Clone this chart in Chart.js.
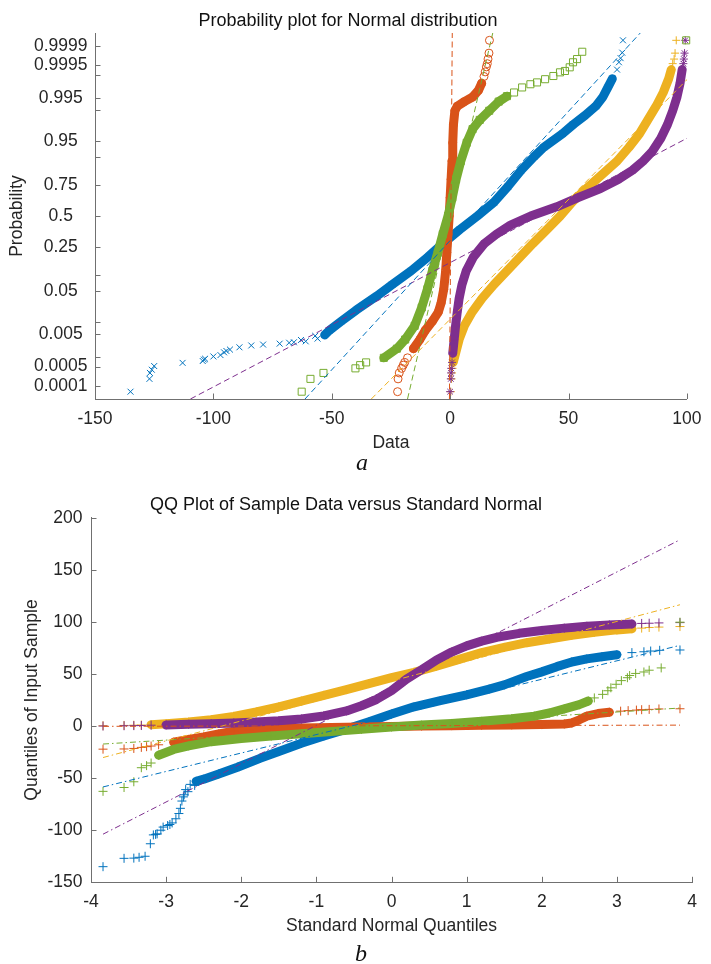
<!DOCTYPE html>
<html>
<head>
<meta charset="utf-8">
<script src="https://cdn.jsdelivr.net/npm/chart.js@4.4.1/dist/chart.umd.min.js"></script>
<style>
  body { margin: 0; background: #fff; }
  #wrap { position: relative; width: 711px; height: 964px; }
  #topChart { position: absolute; left: 0; top: 0; }
  #botChart { position: absolute; left: 0; top: 480px; }
  .lab { position: absolute; width: 24px; text-align: center; font: italic 24px "Liberation Serif", serif; line-height: 24px; color: #111; }
</style>
</head>
<body>
<div id="wrap">
  <canvas id="topChart" width="711" height="480"></canvas>
  <canvas id="botChart" width="711" height="484"></canvas>
  <div class="lab" style="left:350px;top:450px;">a</div>
  <div class="lab" style="left:349px;top:941px;">b</div>
</div>
<script>
// normal quantiles (z) and sample values
const blueZ = [-3.84, -3.56, -3.43, -3.36, -3.28, -3.21, -3.17, -3.14, -3.12, -3.07, -3.04, -2.98, -2.95, -2.92, -2.87, -2.83, -2.81, -2.79, -2.77, -2.76, -2.74, -2.71, -2.68, -2.62, -2.6, -2.5, -2.3, -2.05, -1.75, -1.5, -1.2, -0.9, -0.6, -0.3, 0, 0.3, 0.65, 1.0, 1.3, 1.5, 1.8, 2.0, 2.2, 2.4, 2.6, 2.8, 3.0, 3.2, 3.36, 3.45, 3.57, 3.84];
const blueV = [-135, -127, -126.8, -126, -125, -113, -104.5, -104, -103.5, -100, -97, -95.5, -94.5, -93, -89, -84, -79, -72, -68, -66, -61, -63, -56, -57, -53, -51, -46, -39.5, -31, -24.5, -16.5, -9.5, -3, 4, 11.5, 18.5, 24.5, 30, 35.5, 39.5, 47.5, 52, 57, 61.5, 64.5, 66.5, 68.5, 70.5, 71.3, 72, 72.7, 73];

const orangeZ = [-3.84, -3.56, -3.43, -3.33, -3.26, -3.2, -3.1, -2.9, -2.7, -2.5, -2.3, -2.1, -1.9, -1.6, -1.2, -0.8, -0.4, 0, 0.4, 0.8, 1.2, 1.6, 2.0, 2.3, 2.4, 2.5, 2.6, 2.75, 2.9, 3.05, 3.15, 3.26, 3.33, 3.43, 3.56, 3.84];
const orangeV = [-22.2, -22, -21.5, -20.5, -19.8, -19.2, -18, -15.5, -12.8, -10.5, -7.5, -5, -3.8, -2.7, -1.9, -1.4, -0.9, -0.4, 0, 0.4, 0.8, 1.1, 1.4, 2, 3, 6, 9.5, 12, 13.3, 14.3, 14.8, 15.3, 15.7, 16, 16.4, 16.6];

const yellowZ = [-3.84, -3.56, -3.43, -3.33, -3.2, -3.0, -2.7, -2.4, -2.1, -1.8, -1.5, -1.2, -0.9, -0.6, -0.3, 0, 0.3, 0.6, 0.9, 1.2, 1.5, 1.8, 2.1, 2.4, 2.7, 3.0, 3.2, 3.33, 3.43, 3.56, 3.84];
const yellowV = [0.3, 0.6, 0.8, 1.0, 1.3, 2.3, 3.8, 6, 9.3, 13.5, 18.5, 24, 29.5, 35, 40.8, 46.5, 51.5, 57.5, 64, 70.5, 75.5, 80, 83.5, 87, 90, 92.3, 93.4, 94, 94.6, 95, 95.5];

const purpleZ = [-3.84, -3.56, -3.43, -3.33, -3.2, -3.0, -2.7, -2.4, -2.1, -1.8, -1.5, -1.2, -0.9, -0.6, -0.4, -0.2, 0, 0.2, 0.4, 0.6, 0.8, 1.0, 1.2, 1.4, 1.7, 2.0, 2.3, 2.6, 2.9, 3.2, 3.33, 3.43, 3.56, 3.84];
const purpleV = [0, 0.3, 0.4, 0.5, 0.8, 1.1, 1.7, 2.3, 3, 3.8, 5, 6.8, 9.8, 14.5, 19.5, 25.5, 34, 45, 54, 63.5, 71, 77, 81.5, 85.2, 89, 91.8, 94, 95.8, 97.1, 98, 98.5, 98.7, 99, 99.3];

const greenZ = [-3.84, -3.56, -3.43, -3.33, -3.26, -3.2, -3.1, -2.9, -2.7, -2.4, -2.0, -1.6, -1.2, -0.8, -0.4, 0, 0.4, 0.8, 1.2, 1.6, 1.9, 2.1, 2.3, 2.5, 2.62, 2.7, 2.81, 2.88, 2.92, 2.99, 3.06, 3.14, 3.17, 3.25, 3.36, 3.43, 3.59, 3.84];
const greenV = [-62.7, -59, -53.5, -40, -38, -35.5, -28, -22.5, -19, -15, -12, -9.6, -7.5, -5.2, -3.1, -0.9, 0.9, 2.5, 4.5, 7, 9.5, 12.5, 16.5, 20.5, 24, 27, 30.4, 33.9, 36.7, 40.1, 43.6, 46.4, 48.5, 50.5, 51.9, 53.6, 55.8, 99.7];

// fitted reference lines: value = intercept + slope * z
const refIntercept = [9.5, 0.3, 43.1, 37.5, 0];
const refSlope = [17.7, 0.15, 19.1, 36.8, 4.5];

// probability axis of the top plot
const probTicks = [0.0001, 0.0005, 0.001, 0.005, 0.01, 0.05, 0.1, 0.25, 0.5, 0.75, 0.9, 0.95, 0.99, 0.995, 0.999, 0.9995, 0.9999];
const probLabels = ['0.0001', '0.0005', '', '0.005 ', '', '0.05  ', '', '0.25  ', '0.5   ', '0.75  ', '', '0.95  ', '', '0.995 ', '', '0.9995', '0.9999'];

// styles
const colors = ['#0072BD', '#D95319', '#EDB120', '#7E2F8E', '#77AC30'];
const topMarkers = ['crossRot', 'circle', 'cross', 'star', 'rect'];
const topRadius = [4.2, 4, 4, 4, 5];
const bandRange = [[-2.6, 3.0], [-3.0, 2.9], [-3.2, 3.2], [-3.15, 3.2], [-3.1, 2.62]];
const axisColor = '#707070';
const textColor = '#262626';
const fontFamily = '"Liberation Sans", Arial, sans-serif';

const series = [
  { z: blueZ, v: blueV },
  { z: orangeZ, v: orangeV },
  { z: yellowZ, v: yellowV },
  { z: purpleZ, v: purpleV },
  { z: greenZ, v: greenV }
];

// inverse of the standard normal cdf (Acklam), used for the probability axis
function normInv(p) {
  const a = [-3.969683028665376e+01, 2.209460984245205e+02, -2.759285104469687e+02, 1.383577518672690e+02, -3.066479806614716e+01, 2.506628277459239e+00];
  const b = [-5.447609879822406e+01, 1.615858368580409e+02, -1.556989798598866e+02, 6.680131188771972e+01, -1.328068155288572e+01];
  const c = [-7.784894002430293e-03, -3.223964580411365e-01, -2.400758277161838e+00, -2.549732539343734e+00, 4.374664141464968e+00, 2.938163982698783e+00];
  const d = [7.784695709041462e-03, 3.224671290700398e-01, 2.445134137142996e+00, 3.754408661907416e+00];
  const pl = 0.02425;
  if (p < pl) {
    const q = Math.sqrt(-2 * Math.log(p));
    return (((((c[0] * q + c[1]) * q + c[2]) * q + c[3]) * q + c[4]) * q + c[5]) / ((((d[0] * q + d[1]) * q + d[2]) * q + d[3]) * q + 1);
  }
  if (p > 1 - pl) {
    const q = Math.sqrt(-2 * Math.log(1 - p));
    return -(((((c[0] * q + c[1]) * q + c[2]) * q + c[3]) * q + c[4]) * q + c[5]) / ((((d[0] * q + d[1]) * q + d[2]) * q + d[3]) * q + 1);
  }
  const q = p - 0.5, r = q * q;
  return (((((a[0] * r + a[1]) * r + a[2]) * r + a[3]) * r + a[4]) * r + a[5]) * q / (((((b[0] * r + b[1]) * r + b[2]) * r + b[3]) * r + b[4]) * r + 1);
}

// MATLAB style ticks pointing into the axes
const inwardTicks = {
  id: 'inwardTicks',
  beforeDatasetsDraw(chart) {
    const { ctx, chartArea: a, scales: { x, y } } = chart;
    ctx.save();
    ctx.strokeStyle = axisColor;
    ctx.lineWidth = 1;
    ctx.beginPath();
    x.ticks.forEach(t => {
      const px = Math.round(x.getPixelForValue(t.value)) + 0.5;
      ctx.moveTo(px, a.bottom);
      ctx.lineTo(px, a.bottom - 5.5);
    });
    y.ticks.forEach(t => {
      const py = Math.round(y.getPixelForValue(t.value)) + 0.5;
      ctx.moveTo(a.left, py);
      ctx.lineTo(a.left + 5.5, py);
    });
    ctx.stroke();
    ctx.restore();
  }
};

function buildDatasets(top) {
  const ds = [];
  const pt = (z, v) => top ? { x: v, y: z } : { x: z, y: v };
  series.forEach((s, i) => {
    const pts = s.z.map((z, k) => pt(z, s.v[k]));
    const band = s.z.map((z, k) => ({ z, p: pts[k] }))
      .filter(o => o.z >= bandRange[i][0] && o.z <= bandRange[i][1])
      .map(o => o.p);
    // dense middle of the sample
    ds.push({
      data: band, showLine: true, borderColor: colors[i], borderWidth: 9,
      borderCapStyle: 'round', borderJoinStyle: 'round', pointRadius: 0,
      tension: 0, order: 11 - 2 * i, clip: 8
    });
    // individual markers
    ds.push({
      data: pts, showLine: false,
      pointStyle: top ? topMarkers[i] : 'cross',
      pointRadius: top ? topRadius[i] : 4.5,
      borderColor: colors[i], backgroundColor: 'rgba(0,0,0,0)',
      borderWidth: 1, pointBorderWidth: 1, order: 10 - 2 * i, clip: 8
    });
    // reference line
    const zr = top ? [-4, 4] : [s.z[0], s.z[s.z.length - 1]];
    ds.push({
      data: zr.map(z => pt(z, refIntercept[i] + refSlope[i] * z)),
      showLine: true, borderColor: colors[i], borderWidth: 1,
      borderDash: top ? [6, 3.5] : [6, 3, 1.5, 3], pointRadius: 0, order: 0
    });
  });
  return ds;
}

const tickFont = { family: fontFamily, size: 17.5 };
const titleFont = { family: fontFamily, size: 18, weight: 'normal' };

function axis(opts) {
  return Object.assign({
    type: 'linear',
    grid: { display: false, drawTicks: false },
    border: { display: true, color: axisColor, width: 1 }
  }, opts);
}

Chart.defaults.animation = false;

new Chart(document.getElementById('topChart'), {
  type: 'scatter',
  data: { datasets: buildDatasets(true) },
  options: {
    responsive: false,
    devicePixelRatio: 1,
    events: [],
    layout: { padding: { left: 0, right: 15, top: 0, bottom: 0 } },
    plugins: {
      legend: { display: false },
      tooltip: { enabled: false },
      title: {
        display: true, text: 'Probability plot for Normal distribution',
        font: titleFont, color: '#111', padding: { top: 10.7, bottom: 0.7 }
      }
    },
    scales: {
      x: axis({
        min: -150, max: 100,
        ticks: { stepSize: 50, font: tickFont, color: textColor, padding: 9.5, maxRotation: 0 },
        title: { display: true, text: 'Data', font: tickFont, color: textColor, padding: { top: 0, bottom: 26 } },
        afterFit: s => { s.height = 81; }
      }),
      y: axis({
        min: -4, max: 4,
        afterBuildTicks: s => { s.ticks = probTicks.map(p => ({ value: normInv(p) })); },
        ticks: {
          autoSkip: false, font: tickFont, color: textColor, padding: 7.5,
          callback: (v, i) => probLabels[i]
        },
        title: { display: true, text: 'Probability', font: tickFont, color: textColor, padding: { top: 7, bottom: 0 } },
        afterFit: s => { s.width = 95; }
      })
    }
  },
  plugins: [inwardTicks]
});

new Chart(document.getElementById('botChart'), {
  type: 'scatter',
  data: { datasets: buildDatasets(false) },
  options: {
    responsive: false,
    devicePixelRatio: 1,
    events: [],
    layout: { padding: { left: 0, right: 19, top: 0, bottom: 0 } },
    plugins: {
      legend: { display: false },
      tooltip: { enabled: false },
      title: {
        display: true, text: 'QQ Plot of Sample Data versus Standard Normal',
        font: titleFont, color: '#111', padding: { top: 14.2, bottom: 1.9 }
      }
    },
    scales: {
      x: axis({
        min: -4, max: 4,
        ticks: { stepSize: 1, font: tickFont, color: textColor, padding: 9.5, maxRotation: 0 },
        title: { display: true, text: 'Standard Normal Quantiles', font: tickFont, color: textColor, padding: { top: 0, bottom: 27 } },
        afterFit: s => { s.height = 81.7; }
      }),
      y: axis({
        min: -150, max: 200,
        ticks: { stepSize: 50, font: tickFont, color: textColor, padding: 8.5 },
        title: { display: true, text: 'Quantiles of Input Sample', font: tickFont, color: textColor, padding: { top: 22, bottom: 0 } },
        afterFit: s => { s.width = 91; }
      })
    }
  },
  plugins: [inwardTicks]
});
</script>
</body>
</html>
